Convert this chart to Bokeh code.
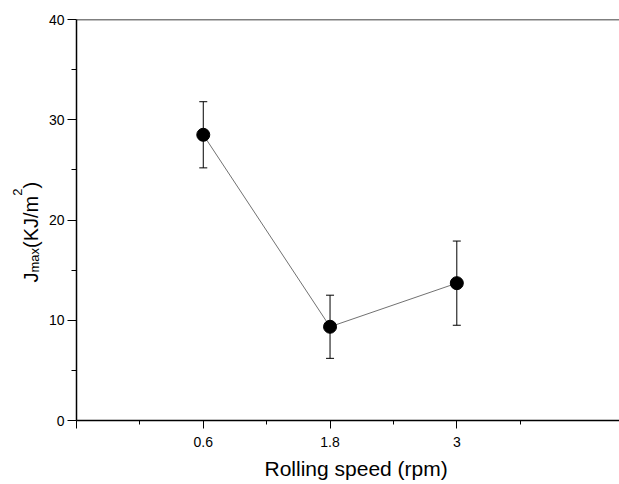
import math
from bokeh.plotting import figure
from bokeh.layouts import row
from bokeh.models import (ColumnDataSource, Range1d, FixedTicker, Whisker, TeeHead,
                          Span, Title)
from bokeh.core.properties import value
from bokeh.embed import file_html
from bokeh.resources import INLINE

# ---- data ----
speeds = [0.6, 1.8, 3.0]
jmax = [28.5, 9.35, 13.7]
jmax_err = [3.3, 3.15, 4.2]

x_ticks = [-0.6, 0.6, 1.8, 3.0]
x_tick_labels = ["", "0.6", "1.8", "3"]
x_minor_ticks = [0.0, 1.2, 2.4, 3.6]
y_ticks = [0, 10, 20, 30, 40]
y_minor_ticks = [5, 15, 25, 35]

x_title = "Rolling speed (rpm)"

FONT = "Liberation Sans"

src = ColumnDataSource(dict(
    x=speeds, y=jmax,
    upper=[v + e for v, e in zip(jmax, jmax_err)],
    lower=[v - e for v, e in zip(jmax, jmax_err)],
))

H = 484
STRIP = 45
W = 619 - STRIP
BL, BR, BT, BB = 75 - STRIP, 0, 19, 64


def blank(fig):
    fig.outline_line_color = None
    fig.grid.visible = False
    fig.background_fill_color = "white"
    fig.border_fill_color = "white"


p = figure(width=W, height=H, x_range=Range1d(-0.6, 4.54), y_range=Range1d(0, 40),
           output_backend="svg", toolbar_location=None,
           min_border_left=BL, min_border_right=BR, min_border_top=BT, min_border_bottom=BB)
blank(p)

for ax in (p.xaxis[0], p.yaxis[0]):
    ax.axis_line_color = "black"
    ax.axis_line_width = 1.5
    ax.major_tick_line_color = "black"
    ax.minor_tick_line_color = "black"
    ax.major_tick_line_width = 1
    ax.minor_tick_line_width = 1
    ax.major_tick_in = 0
    ax.minor_tick_in = 0
    ax.major_label_text_font = FONT
    ax.major_label_text_font_size = "14px"
    ax.major_label_text_color = "black"

xa = p.xaxis[0]
xa.ticker = FixedTicker(ticks=x_ticks, minor_ticks=x_minor_ticks)
xa.major_label_overrides = {t: l for t, l in zip(x_ticks, x_tick_labels)}
xa.major_tick_out = 8
xa.minor_tick_out = 4
xa.major_label_standoff = 8

ya = p.yaxis[0]
ya.ticker = FixedTicker(ticks=y_ticks, minor_ticks=y_minor_ticks)
ya.major_tick_out = 9
ya.minor_tick_out = 5
ya.major_label_standoff = 3

# x title
p.add_layout(Title(text=x_title, align="left", offset=188,
                   text_font=FONT, text_font_size="21px", text_font_style="normal",
                   text_color="black", standoff=10), "below")

# top frame line
p.add_layout(Span(location=40, dimension="width", line_color="black", line_width=1.5))

# connecting line
p.line("x", "y", source=src, line_color="#333333", line_width=0.7)

# error bars
p.add_layout(Whisker(source=src, base="x", upper="upper", lower="lower",
                     line_color="black", line_width=1,
                     upper_head=TeeHead(size=8, line_color="black", line_width=1),
                     lower_head=TeeHead(size=8, line_color="black", line_width=1)))

p.scatter("x", "y", source=src, size=13, fill_color="black", line_color="black")

# ---- y title strip: J_max(KJ/m^2), rotated; data = page pixels ----
s = figure(width=STRIP, height=H, x_range=Range1d(0, STRIP), y_range=Range1d(H - BB, BT),
           output_backend="svg", toolbar_location=None,
           x_axis_location=None, y_axis_location=None,
           min_border_left=0, min_border_right=0, min_border_top=BT, min_border_bottom=BB)
blank(s)

big, small = 20, 13
pieces = [("J", big, 0), ("max", small, 4), ("(KJ/m", big, 0), ("2", small, -13), (")", big, 0)]
adv = {"J": 0.5 * big, "max": 1.889 * small, "(KJ/m": 2.611 * big, "2": 0.556 * small, ")": 0.333 * big}
start_page_y = 282
base_x_page = 30
off = 0.0
for txt, fs, dx in pieces:
    s.text(x=[base_x_page + dx], y=[start_page_y - off], text=[txt],
           angle=math.pi / 2, text_font=value(FONT), text_font_size=value(f"{fs}px"),
           text_align="left", text_baseline="alphabetic", text_color="black")
    off += adv[txt]

layout = row(s, p)
open("out.html", "w").write(file_html(layout, INLINE))
